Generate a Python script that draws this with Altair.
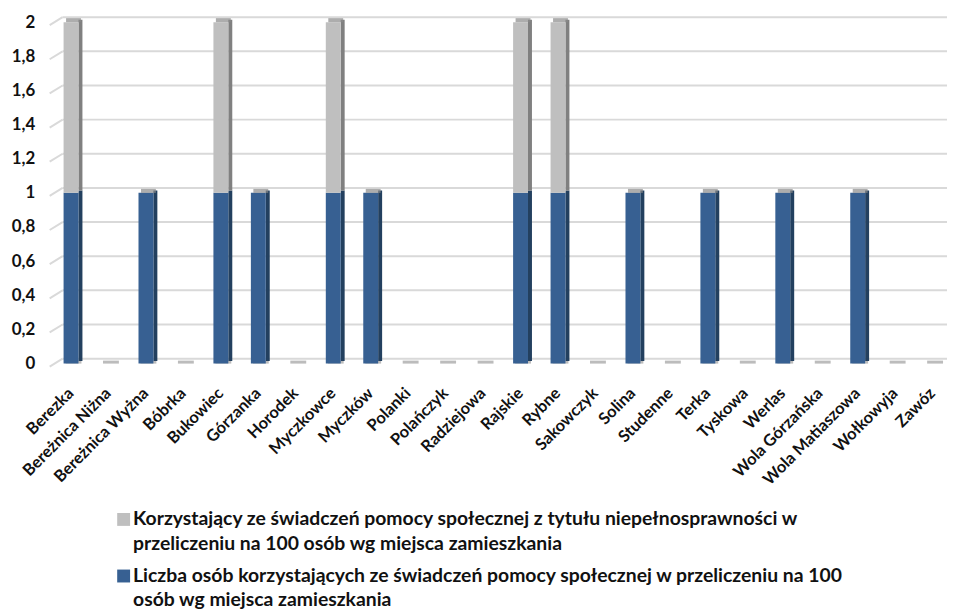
import altair as alt
import pandas as pd

categories = ["Berezka", "Bereżnica Niżna", "Bereżnica Wyżna", "Bóbrka", "Bukowiec",
              "Górzanka", "Horodek", "Myczkowce", "Myczków", "Polanki", "Polańczyk",
              "Radziejowa", "Rajskie", "Rybne", "Sakowczyk", "Solina", "Studenne",
              "Terka", "Tyskowa", "Werlas", "Wola Górzańska", "Wola Matiaszowa",
              "Wołkowyja", "Zawóz"]
liczba = [1, 0, 1, 0, 1, 1, 0, 1, 1, 0, 0, 0, 1, 1, 0, 1, 0, 1, 0, 1, 0, 1, 0, 0]
niepelnosprawnosc = [1, 0, 0, 0, 1, 0, 0, 1, 0, 0, 0, 0, 1, 1, 0, 0, 0, 0, 0, 0, 0, 0, 0, 0]
series_names = [
    "Liczba osób korzystających ze świadczeń pomocy społecznej w przeliczeniu na 100 osób wg miejsca zamieszkania",
    "Korzystający ze świadczeń pomocy społecznej z tytułu niepełnosprawności w przeliczeniu na 100 osób wg miejsca zamieszkania",
]
legend_texts = [
    "Korzystający ze świadczeń pomocy społecznej z tytułu niepełnosprawności w\nprzeliczeniu na 100 osób wg miejsca zamieszkania",
    "Liczba osób korzystających ze świadczeń pomocy społecznej w przeliczeniu na 100\nosób wg miejsca zamieszkania",
]
y_ticks = [0, 0.2, 0.4, 0.6, 0.8, 1, 1.2, 1.4, 1.6, 1.8, 2]

FRONT = {"blue": "#376092", "gray": "#BFBFBF"}
SIDE = {"blue": "#23405f", "gray": "#808080"}
TOP = "#8a8a8a"
FONT = "Lato"
TEXT_COLOR = "#111111"

W, H = 897, 344

rows = []
for i, c in enumerate(categories):
    rows.append({"category": c, "series": series_names[0], "value": liczba[i], "ord": 0,
                 "front": FRONT["blue"], "side": SIDE["blue"]})
    rows.append({"category": c, "series": series_names[1], "value": niepelnosprawnosc[i], "ord": 1,
                 "front": FRONT["gray"], "side": SIDE["gray"]})
df = pd.DataFrame(rows)
grid_df = pd.DataFrame({"v": y_ticks})

xscale = alt.Scale(domain=categories, paddingInner=0.232, paddingOuter=0)
yscale = alt.Scale(domain=[0, 2], nice=False, zero=True)

x_axis = alt.Axis(title=None, labelAngle=-45, labelAlign="right", labelBaseline="middle",
                  labelPadding=27, domain=False, ticks=False, grid=False,
                  labelFont=FONT, labelFontSize=16.5, labelFontWeight="bold", labelColor=TEXT_COLOR)
y_axis = alt.Axis(title=None, values=y_ticks, grid=False, domain=False, ticks=False,
                  labelPadding=22, labelFont=FONT, labelFontSize=17, labelFontWeight="bold",
                  labelColor=TEXT_COLOR,
                  labelExpr="replace(format(datum.value, '.1~f'), '.', ',')")

X = alt.X("category:N", sort=categories, scale=xscale, axis=x_axis)

grid = alt.Chart(grid_df).mark_rule(color="#d9d9d9", strokeWidth=2, yOffset=-5).encode(
    y=alt.Y("v:Q", scale=yscale, axis=y_axis),
    x=alt.value(6), x2=alt.value(W),
)
slant = alt.Chart(grid_df).mark_rule(color="#d9d9d9", strokeWidth=2, yOffset=3, y2Offset=-5).encode(
    y=alt.Y("v:Q", scale=yscale, axis=y_axis),
    y2=alt.Y2("v:Q"),
    x=alt.value(-7), x2=alt.value(6),
)

floor = alt.Chart(df).transform_filter(alt.datum.ord == 0).transform_calculate(
    zero="0").mark_tick(color="#a0a0a0", thickness=3, size=16, xOffset=2.5, yOffset=-1.5).encode(
    x=X, y=alt.Y("zero:Q", scale=yscale, axis=y_axis)
)

side = alt.Chart(df).mark_bar(size=4, xOffset=9.5, yOffset=-2.5, y2Offset=-2.5).encode(
    x=X,
    y=alt.Y("value:Q", stack="zero", scale=yscale, axis=y_axis),
    order=alt.Order("ord:Q", sort="ascending"),
    color=alt.Color("side:N", scale=None),
)
front = alt.Chart(df).mark_bar(size=15).encode(
    x=X,
    y=alt.Y("value:Q", stack="zero", scale=yscale, axis=y_axis),
    order=alt.Order("ord:Q", sort="ascending"),
    color=alt.Color("front:N", scale=None),
)
top = alt.Chart(df).transform_aggregate(
    total="sum(value)", groupby=["category"]
).transform_filter(alt.datum.total > 0).mark_tick(
    color=TOP, thickness=4, size=15, xOffset=2.5, yOffset=-2).encode(
    x=X, y=alt.Y("total:Q", scale=yscale, axis=y_axis)
)

legend_layers = []
legend_colors = [FRONT["gray"], FRONT["blue"]]
for k, (txt, col) in enumerate(zip(legend_texts, legend_colors)):
    base_y = 501 + k * 57
    sq = alt.Chart(grid_df.head(1)).mark_square(size=169, color=col, opacity=1).encode(
        x=alt.value(67.5), y=alt.value(base_y))
    tx = alt.Chart(grid_df.head(1)).mark_text(
        lineBreak="\n", lineHeight=24.5, align="left", baseline="alphabetic",
        font=FONT, fontSize=19.5, fontWeight="bold", color=TEXT_COLOR).encode(
        x=alt.value(77), y=alt.value(base_y + 6), text=alt.value(txt))
    legend_layers += [sq, tx]

chart = alt.layer(grid, slant, floor, side, front, top, *legend_layers).properties(
    width=W, height=H,
    autosize="none",
    padding={"left": 49, "top": 12, "right": 0, "bottom": 248},
).configure_view(stroke=None)

chart.save("out.html", embed_options={"renderer": "svg", "actions": False})
